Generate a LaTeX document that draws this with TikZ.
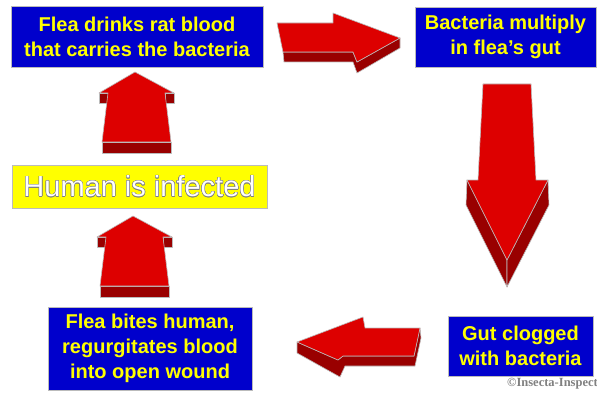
\documentclass[tikz,border=0pt]{standalone}
\usepackage{fontspec}
\setmainfont{Liberation Sans}
\newfontfamily\creditfont{Liberation Serif}
\usepackage{contour}
\contourlength{0.4pt}
\definecolor{boxblue}{HTML}{0000CC}
\definecolor{lemon}{HTML}{FFFF00}
\definecolor{arrowred}{HTML}{DD0000}
\definecolor{arrowdark}{HTML}{990000}
\definecolor{rim}{HTML}{BBBBBB}

\begin{document}
\begin{tikzpicture}[x=1pt,y=-1pt,
  stepcard/.style={fill=boxblue,draw=rim,text=lemon,align=center,inner sep=0pt,
    font=\bfseries\fontsize{20}{25}\selectfont},
  face/.style={fill=arrowred,draw=rim,line width=0.6pt,line join=round},
  side/.style={fill=arrowdark,draw=rim,line width=0.6pt,line join=round}]
  \useasboundingbox (0,0) rectangle (597,393);

  % stages of the cycle
  \node[stepcard,minimum width=252pt,minimum height=61pt] (drinks) at (137,36.5)
    {Flea drinks rat blood\\that carries the bacteria};
  \node[stepcard,minimum width=181pt,minimum height=60pt] (multiply) at (505.5,37)
    {Bacteria multiply\\in flea's gut};
  \node[stepcard,minimum width=145pt,minimum height=60pt] (clogged) at (520.5,346)
    {Gut clogged\\with bacteria};
  \node[stepcard,minimum width=204pt,minimum height=83pt] (bites) at (150,348.5)
    {Flea bites human,\\regurgitates blood\\into open wound};
  \node[fill=lemon,draw=rim,inner sep=0pt,minimum width=255pt,minimum height=43pt,
    text=white,font=\fontsize{29}{34}\selectfont] (infected) at (139.5,186.5)
    {\contour{gray}{Human is infected}};

  % right arrow
  \draw[side] (283,52) -- (353,52) -- (357,62) -- (400,38) -- (400,48) -- (357,73)
    -- (353,62) -- (284,62) -- cycle;
  \draw[face] (277,23) -- (333,23) -- (333,13) -- (400,38) -- (357,62) -- (353,52)
    -- (283,52) -- cycle;

  % down arrow
  \draw[side] (467,180) -- (507,260) -- (507,287) -- (466,205) -- cycle;
  \draw[side] (548,180) -- (507,260) -- (507,287) -- (549,205) -- cycle;
  \draw[face] (483,84) -- (531,84) -- (536,180) -- (548,180) -- (507,260)
    -- (467,180) -- (478,180) -- cycle;

  % left arrow
  \draw[side] (297,342) -- (338,360) -- (343,356) -- (414,356) -- (420,328)
    -- (421,338) -- (415,366) -- (345,366) -- (340,377) -- (297,353) -- cycle;
  \draw[face] (297,342) -- (363,317) -- (365,328) -- (420,328) -- (414,356)
    -- (343,356) -- (338,360) -- cycle;

  % up arrows
  \foreach \dx/\dy in {0/0,-2/144} {
    \begin{scope}[shift={(\dx,\dy)}]
      \draw[side] (99,93) rectangle (108,103);
      \draw[side] (165,93) rectangle (174,103);
      \draw[side] (102,142) rectangle (171,153);
      \draw[face] (135,72) -- (174,93) -- (165,93) -- (171,142) -- (102,142)
        -- (108,93) -- (99,93) -- cycle;
    \end{scope}
  }

  \node[anchor=east,inner sep=0pt,text=gray,font=\creditfont\bfseries\fontsize{12.5}{14}\selectfont]
    (credit) at (598,384) {\textcopyright Insecta-Inspect};
\end{tikzpicture}
\end{document}
